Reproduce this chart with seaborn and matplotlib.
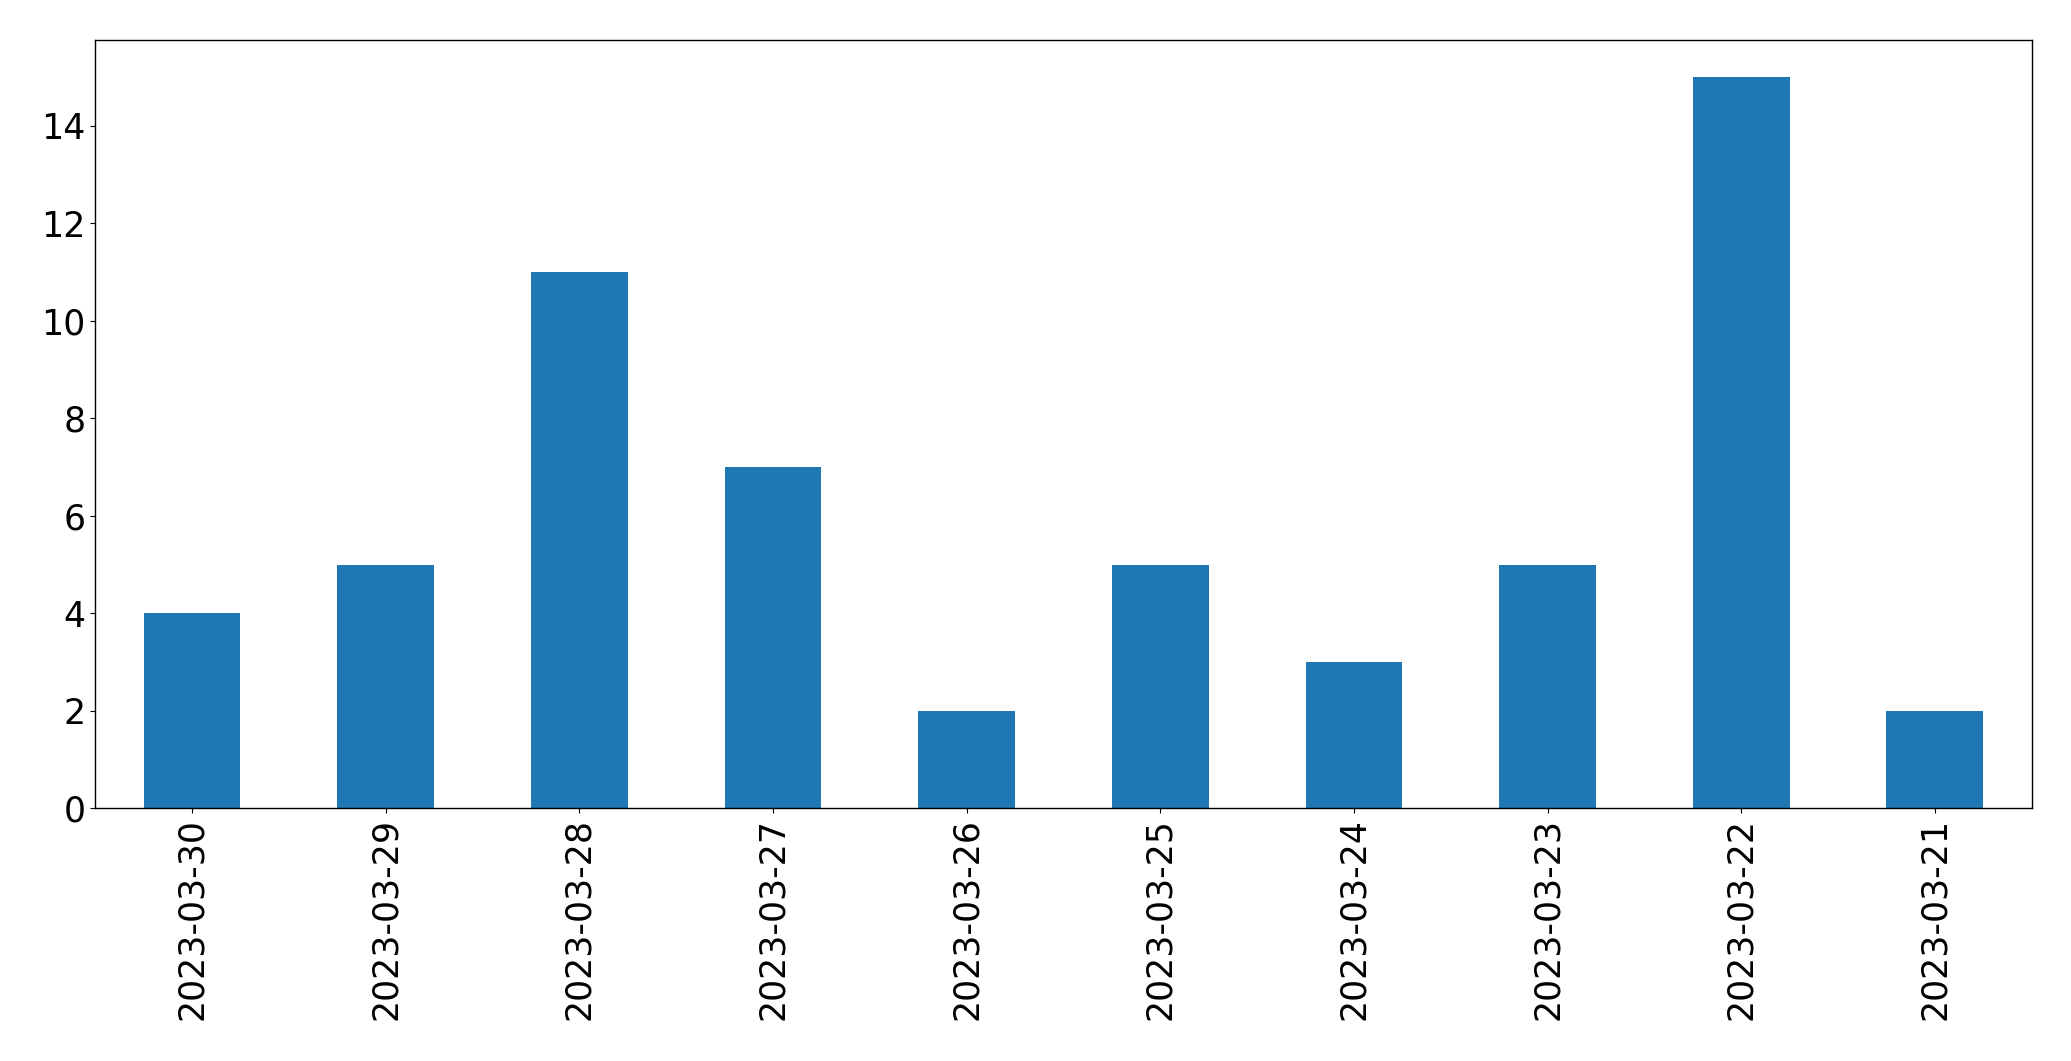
import pandas as pd
import seaborn as sns
import matplotlib
matplotlib.use('Agg')
import matplotlib.pyplot as plt

# 데이터
dates = ['2023-03-30', '2023-03-29', '2023-03-28', '2023-03-27', '2023-03-26',
         '2023-03-25', '2023-03-24', '2023-03-23', '2023-03-22', '2023-03-21']
counts = [4, 5, 11, 7, 2, 5, 3, 5, 15, 2]

df = pd.DataFrame({'date': dates, 'count': counts})

sns.set_style('ticks')
plt.rcParams['font.family'] = ['DejaVu Sans']
plt.rcParams['text.color'] = 'black'
plt.rcParams['xtick.color'] = 'black'
plt.rcParams['ytick.color'] = 'black'
plt.rcParams['axes.edgecolor'] = 'black'

fig = plt.figure(figsize=(20.71, 10.61), dpi=100)
ax = fig.add_axes([0.046, 0.238, 0.935, 0.724])

sns.barplot(data=df, x='date', y='count', color='#1f77b4',
            saturation=1, width=0.5, linewidth=0, ax=ax)

ax.set_xlim(-0.5, len(dates) - 0.5)
ax.set_ylim(0, max(counts) * 1.05)
ax.set_xlabel('')
ax.set_ylabel('')
ax.tick_params(axis='x', labelrotation=90, labelsize=25, colors='black')
ax.tick_params(axis='y', labelsize=25, colors='black')
for s in ax.spines.values():
    s.set_visible(True)
    s.set_linewidth(1)
    s.set_color('black')

fig.savefig('out.png', dpi=100)
